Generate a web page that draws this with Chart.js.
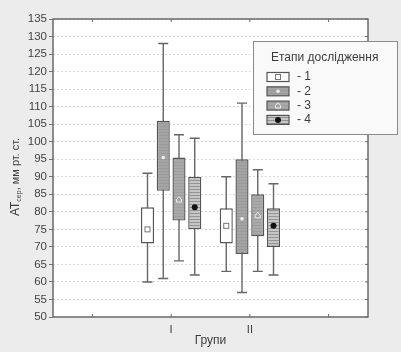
<!DOCTYPE html>
<html>
<head>
<meta charset="utf-8">
<script src="https://cdn.jsdelivr.net/npm/chart.js@4.4.0/dist/chart.umd.min.js"></script>
<style>
  html, body { margin: 0; padding: 0; background: #ececec; }
  #wrap { width: 401px; height: 352px; }
</style>
</head>
<body>
<div id="wrap"><canvas id="boxChart" width="401" height="352" style="width:401px;height:352px"></canvas></div>
<script>
// groups on the x axis, study stages as series
const groups = ['I', 'II'];
const stages = ['1', '2', '3', '4'];
// one row per stage, one value per group
const whiskerLow = [[60, 63], [61, 57], [66, 63], [62, 62]];
const boxLow = [[71, 71], [86, 68], [77.5, 73], [75, 70]];
const boxHigh = [[81.3, 81], [106, 95], [95.5, 85], [90, 81]];
const centers = [[75, 76], [95.5, 78], [83.5, 79], [81.3, 76]];
const whiskerHigh = [[91, 90], [128, 111], [102, 92], [101, 88]];
const yTicksMin = 50, yTicksMax = 135, yStep = 5;

const FONT = '"Liberation Sans", Arial, sans-serif';
const xLabels = [''].concat(groups, ['']);

function stripes(base, line, step) {
    const c = document.createElement('canvas');
    c.width = 4; c.height = step;
    const g = c.getContext('2d');
    g.fillStyle = base; g.fillRect(0, 0, 4, step);
    g.fillStyle = line; g.fillRect(0, 0, 4, 1);
    return g.createPattern(c, 'repeat');
}

const fills = [
    '#ffffff',
    stripes('#a4a4a4', '#9a9a9a', 3),
    stripes('#a9a9a9', '#9e9e9e', 3),
    stripes('#c6c6c6', '#939393', 3)
];

function drawMarker(ctx, idx, x, y) {
    ctx.save();
    if (idx === 0) {
        ctx.fillStyle = '#fff'; ctx.strokeStyle = '#777'; ctx.lineWidth = 1;
        ctx.fillRect(x - 2.5, y - 2.5, 5, 5);
        ctx.strokeRect(x - 2.5, y - 2.5, 5, 5);
    } else if (idx === 1) {
        ctx.fillStyle = '#eeeeee';
        ctx.beginPath(); ctx.arc(x, y, 1.8, 0, Math.PI * 2); ctx.fill();
    } else if (idx === 2) {
        ctx.strokeStyle = '#eeeeee'; ctx.lineWidth = 1;
        ctx.beginPath();
        ctx.moveTo(x, y - 3); ctx.lineTo(x + 2.5, y); ctx.lineTo(x + 2.5, y + 2.5);
        ctx.lineTo(x - 2.5, y + 2.5); ctx.lineTo(x - 2.5, y); ctx.closePath();
        ctx.stroke();
    } else {
        ctx.fillStyle = '#111';
        ctx.beginPath(); ctx.arc(x, y, 3, 0, Math.PI * 2); ctx.fill();
    }
    ctx.restore();
}

const boxExtras = {
    id: 'boxExtras',
    beforeDraw(chart) {
        const { ctx, chartArea: a } = chart;
        ctx.save();
        ctx.fillStyle = '#ececec';
        ctx.fillRect(0, 0, chart.width, chart.height);
        ctx.fillStyle = '#ffffff';
        ctx.fillRect(a.left, a.top, a.right - a.left, a.bottom - a.top);
        ctx.restore();
    },
    beforeDatasetsDraw(chart) {
        const { ctx } = chart;
        const y = chart.scales.y;
        ctx.save();
        ctx.strokeStyle = '#666';
        ctx.lineWidth = 1.4;
        stages.forEach((s, i) => {
            chart.getDatasetMeta(i).data.forEach((bar, j) => {
                if (j === 0 || j === xLabels.length - 1) return;
                const g = j - 1;
                const x = bar.x;
                const hi = y.getPixelForValue(whiskerHigh[i][g]);
                const lo = y.getPixelForValue(whiskerLow[i][g]);
                ctx.beginPath();
                ctx.moveTo(x, hi); ctx.lineTo(x, lo);
                ctx.moveTo(x - 5, hi); ctx.lineTo(x + 5, hi);
                ctx.moveTo(x - 5, lo); ctx.lineTo(x + 5, lo);
                ctx.stroke();
            });
        });
        ctx.restore();
    },
    afterDatasetsDraw(chart) {
        const { ctx } = chart;
        const y = chart.scales.y;
        stages.forEach((s, i) => {
            chart.getDatasetMeta(i).data.forEach((bar, j) => {
                if (j === 0 || j === xLabels.length - 1) return;
                drawMarker(ctx, i, bar.x, y.getPixelForValue(centers[i][j - 1]));
            });
        });
    },
    afterDraw(chart) {
        const { ctx, chartArea: a } = chart;
        const xs = chart.scales.x, ys = chart.scales.y;
        ctx.save();
        // frame + inner ticks
        ctx.strokeStyle = '#6a6a6a';
        ctx.lineWidth = 1.5;
        ctx.strokeRect(a.left, a.top, a.right - a.left, a.bottom - a.top);
        ctx.lineWidth = 1;
        ctx.beginPath();
        xs.ticks.forEach((t, k) => {
            const px = xs.getPixelForTick(k);
            ctx.moveTo(px, a.top); ctx.lineTo(px, a.top + 3);
            ctx.moveTo(px, a.bottom); ctx.lineTo(px, a.bottom - 3);
        });
        ys.ticks.forEach((t, k) => {
            const py = ys.getPixelForTick(k);
            ctx.moveTo(a.right, py); ctx.lineTo(a.right - 3, py);
        });
        ctx.stroke();

        // y title with subscript
        ctx.translate(16, 177);
        ctx.rotate(-Math.PI / 2);
        ctx.fillStyle = '#3c3c3c';
        ctx.textBaseline = 'middle';
        const parts = [['AT', '12px ' + FONT, 0], ['сер', '7px ' + FONT, 3.5], [', мм рт. ст.', '11px ' + FONT, 0]];
        let total = 0;
        parts.forEach(p => { ctx.font = p[1]; total += ctx.measureText(p[0]).width; });
        let cx = -total / 2;
        parts.forEach(p => {
            ctx.font = p[1];
            ctx.fillText(p[0], cx, p[2]);
            cx += ctx.measureText(p[0]).width;
        });
        ctx.restore();

        // legend
        ctx.save();
        const L = 253, T = 41, R = 397, B = 134;
        ctx.fillStyle = '#f9f9f9';
        ctx.fillRect(L, T, R - L, B - T);
        ctx.strokeStyle = '#8a8a8a';
        ctx.lineWidth = 1;
        ctx.strokeRect(L + 0.5, T + 0.5, R - L, B - T);
        ctx.fillStyle = '#3c3c3c';
        ctx.font = '12px ' + FONT;
        ctx.textBaseline = 'middle';
        ctx.fillText('Етапи дослідження', 271, 58);
        stages.forEach((s, i) => {
            const ry = 77 + i * 14.3;
            ctx.fillStyle = fills[i];
            ctx.fillRect(267, ry - 4.5, 22, 9);
            ctx.strokeStyle = '#555';
            ctx.lineWidth = 1.2;
            ctx.strokeRect(267, ry - 4.5, 22, 9);
            drawMarker(ctx, i, 278, ry);
            ctx.fillStyle = '#3c3c3c';
            ctx.font = '12px ' + FONT;
            ctx.fillText('- ' + s, 297, ry);
        });
        ctx.restore();
    }
};

const datasets = stages.map((s, i) => ({
    label: s,
    data: xLabels.map((lab, j) => (j === 0 || j === xLabels.length - 1) ? null : [boxLow[i][j - 1], boxHigh[i][j - 1]]),
    backgroundColor: fills[i],
    borderColor: '#555',
    borderWidth: 1.4,
    borderSkipped: false,
    categoryPercentage: 0.8,
    barPercentage: 0.83
}));

new Chart(document.getElementById('boxChart'), {
    type: 'bar',
    data: { labels: xLabels, datasets: datasets },
    plugins: [boxExtras],
    options: {
        responsive: false,
        animation: false,
        layout: { padding: { left: 0, right: 33, top: 19, bottom: 0 } },
        plugins: { legend: { display: false }, tooltip: { enabled: false } },
        scales: {
            x: {
                offset: true,
                grid: { display: true, drawOnChartArea: false, drawTicks: false },
                border: { display: false },
                ticks: { color: '#3c3c3c', font: { family: FONT, size: 11 }, padding: 6, autoSkip: false, maxRotation: 0 },
                title: { display: true, text: 'Групи', color: '#3c3c3c', font: { family: FONT, size: 12 }, padding: { top: 0, bottom: 4 } },
                afterFit: (scale) => { scale.height = 35; }
            },
            y: {
                min: yTicksMin,
                max: yTicksMax,
                ticks: { stepSize: yStep, color: '#444', font: { family: FONT, size: 11.5 }, padding: 2 },
                grid: { color: '#dadada', tickColor: '#777', tickLength: 4, lineWidth: 1 },
                border: { display: false, dash: [2, 2] },
                afterFit: (scale) => { scale.width = 53; }
            }
        }
    }
});
</script>
</body>
</html>
